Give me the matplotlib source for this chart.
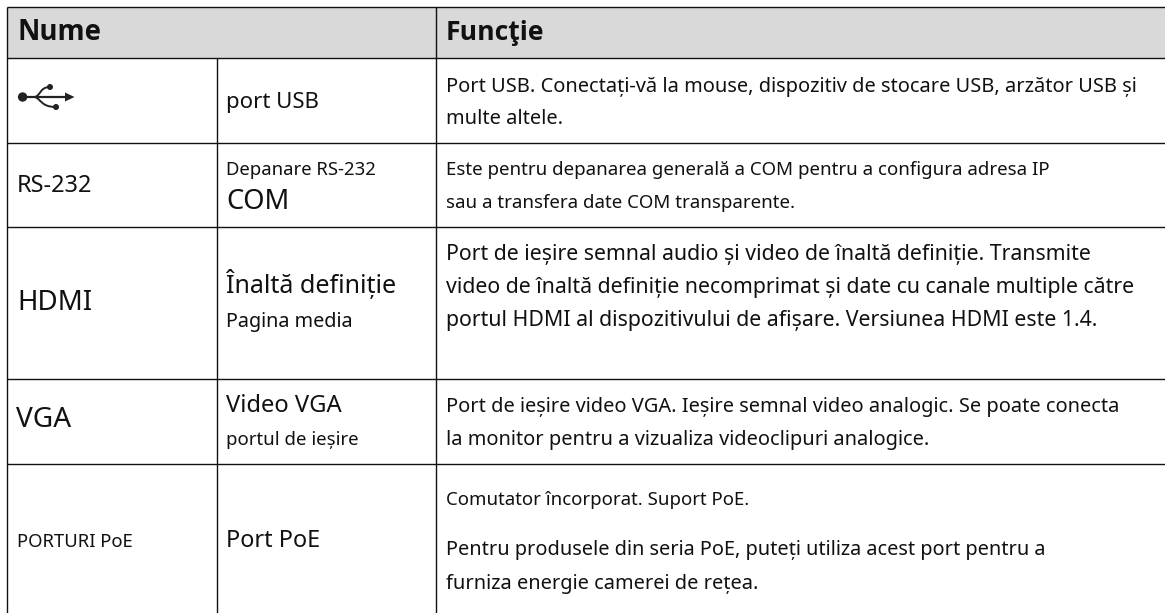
import matplotlib
matplotlib.use('Agg')
import matplotlib.pyplot as plt
from matplotlib.patches import Rectangle, Circle, PathPatch, Polygon
from matplotlib.path import Path

# Contenu du tableau
headers = ['Nume', 'Funcţie']
names = ['RS-232', 'HDMI', 'VGA', 'PORTURI PoE']
labels = ['port USB', 'Depanare RS-232', 'COM', 'Înaltă definiție', 'Pagina media',
          'Video VGA', 'portul de ieșire', 'Port PoE']
functions = [
    'Port USB. Conectați-vă la mouse, dispozitiv de stocare USB, arzător USB și',
    'multe altele.',
    'Este pentru depanarea generală a COM pentru a configura adresa IP',
    'sau a transfera date COM transparente.',
    'Port de ieșire semnal audio și video de înaltă definiție. Transmite',
    'video de înaltă definiție necomprimat și date cu canale multiple către',
    'portul HDMI al dispozitivului de afișare. Versiunea HDMI este 1.4.',
    'Port de ieșire video VGA. Ieșire semnal video analogic. Se poate conecta',
    'la monitor pentru a vizualiza videoclipuri analogice.',
    'Comutator încorporat. Suport PoE.',
    'Pentru produsele din seria PoE, puteți utiliza acest port pentru a',
    'furniza energie camerei de rețea.',
]

W, H = 1165, 613
PX = 0.72  # px -> pt a 100 dpi

plt.rcParams['font.family'] = ['Noto Sans', 'DejaVu Sans']

fig = plt.figure(figsize=(W / 100, H / 100), dpi=100)
ax = fig.add_axes([0, 0, 1, 1])
ax.set_xlim(0, W)
ax.set_ylim(H, 0)
ax.axis('off')

# Grille
ax.add_patch(Rectangle((7, 7), W - 7, 51, fc='#d9d9d9', ec='none', zorder=0))
for y in [7, 58, 142.5, 227, 379, 463.5]:
    ax.plot([7, W], [y, y], color='#111111', lw=1.0, solid_capstyle='butt')
ax.plot([7, 7], [7, H], color='#111111', lw=1.0, solid_capstyle='butt')
ax.plot([216.5, 216.5], [58, H], color='#111111', lw=1.0, solid_capstyle='butt')
ax.plot([436, 436], [7, H], color='#111111', lw=1.0, solid_capstyle='butt')


def put(x, y, s, px, **kw):
    ax.text(x, y, s, fontsize=px * PX, color='#111111', va='baseline', ha='left', **kw)


# En-tetes
put(17, 40, headers[0], 27.5, fontweight='bold', family=['Open Sans', 'DejaVu Sans'])
put(446, 40, headers[1], 26.5, fontweight='bold', family=['Open Sans', 'DejaVu Sans'])

# Colonne 1
name_pos = [(17, 192, 23.5), (17, 310, 27.7), (16, 427, 28), (17, 547, 18.5)]
for s, (x, y, px) in zip(names, name_pos):
    put(x, y, s, px)

# Colonne 2
label_pos = [(108, 22.2), (175, 18.5), (209, 27.4), (293, 25.1), (327, 19.8),
             (412, 23.8), (445, 18.6), (547, 23.5)]
for s, (y, px) in zip(labels, label_pos):
    put(226, y, s, px)

# Colonne 3
func_pos = [(92, 20), (124, 20), (175, 18.7), (208, 18.7), (260, 21.3), (293, 21.3), (326, 21.3),
            (412, 20), (445, 20), (505, 18.6), (555, 19.9), (589, 20)]
for s, (y, px) in zip(functions, func_pos):
    put(446, y, s, px)

# Icone USB
c = '#222222'
ax.plot([22, 70], [97, 97], color=c, lw=1.6, solid_capstyle='butt')
ax.add_patch(Circle((22.6, 97), 4.7, fc=c, ec='none'))
ax.add_patch(Polygon([[65, 92.5], [74.5, 97], [65, 101.5]], closed=True, fc=c, ec='none'))
branch = Path([(35, 97), (41, 95), (40, 87), (50, 87)],
              [Path.MOVETO, Path.CURVE4, Path.CURVE4, Path.CURVE4])
ax.add_patch(PathPatch(branch, fc='none', ec=c, lw=1.4))
ax.add_patch(Circle((50, 87), 3, fc=c, ec='none'))
branch = Path([(35, 97), (41, 99), (41, 107), (56, 107)],
              [Path.MOVETO, Path.CURVE4, Path.CURVE4, Path.CURVE4])
ax.add_patch(PathPatch(branch, fc='none', ec=c, lw=1.4))
ax.add_patch(Circle((56, 107), 3, fc=c, ec='none'))

fig.savefig('out.png', dpi=100)
